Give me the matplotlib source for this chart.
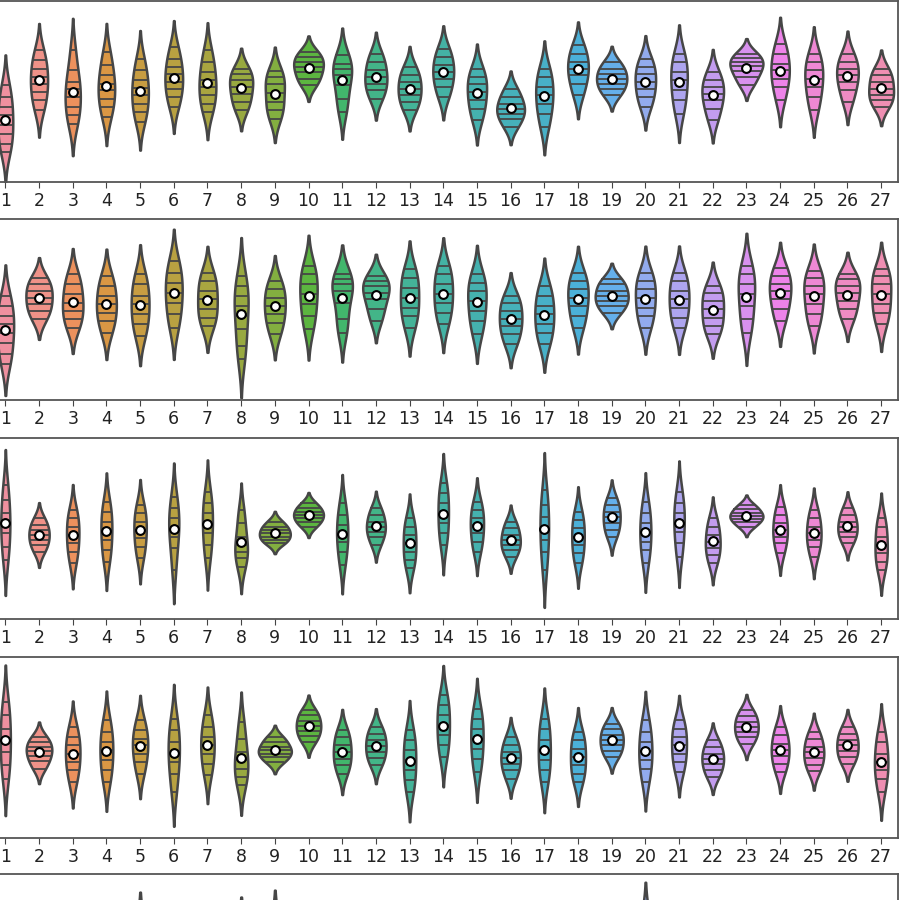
import numpy as np
import pandas as pd
import matplotlib
matplotlib.use("Agg")
import matplotlib.pyplot as plt
import seaborn as sns

cats = [str(i) for i in range(1, 27 + 1)]

# valores (escala 0-543 em cada painel)
panel1 = [
    [290, 255, 225, 200, 170, 145, 115, 90],
    [395, 365, 340, 315, 295, 270, 245, 215],
    [395, 335, 300, 280, 255, 225, 200, 175],
    [390, 350, 320, 295, 275, 250, 225, 195],
    [370, 335, 305, 283, 260, 235, 210, 180],
    [405, 370, 345, 323, 300, 280, 255, 225],
    [395, 360, 330, 305, 285, 260, 235, 210],
    [340, 325, 305, 285, 265, 240, 215],
    [333, 315, 295, 267, 240, 215, 190],
    [390, 375, 360, 345, 330, 310, 290],
    [380, 355, 340, 320, 290, 250, 210],
    [385, 360, 335, 315, 295, 275, 250],
    [345, 320, 300, 280, 260, 240, 215],
    [400, 375, 350, 330, 310, 285, 255],
    [340, 315, 295, 270, 245, 220, 185],
    [280, 255, 235, 220, 205, 190, 165],
    [340, 315, 285, 260, 235, 205, 165],
    [410, 385, 360, 340, 320, 295, 260],
    [360, 340, 325, 310, 295, 280, 260],
    [370, 345, 325, 300, 280, 255, 225],
    [385, 360, 330, 305, 275, 245, 205],
    [330, 305, 285, 265, 245, 220, 185],
    [385, 373, 360, 347, 333, 315, 290],
    [415, 385, 355, 335, 310, 285, 245],
    [385, 360, 335, 310, 285, 255, 215],
    [385, 360, 340, 320, 300, 275, 240],
    [340, 320, 300, 280, 260, 245, 225],
]

panel2 = [
    [312, 282, 252, 227, 202, 172, 137, 107],
    [367, 347, 327, 307, 287, 267, 242],
    [377, 347, 317, 292, 267, 242, 217],
    [372, 342, 312, 287, 262, 237, 202],
    [377, 347, 312, 287, 257, 227, 192],
    [417, 382, 352, 322, 292, 257, 217],
    [382, 357, 327, 302, 272, 247, 222],
    [372, 342, 312, 282, 252, 212, 162, 122],
    [357, 332, 307, 282, 257, 232, 197],
    [402, 377, 347, 317, 287, 252, 212],
    [377, 362, 347, 327, 292, 242, 202],
    [372, 357, 342, 322, 302, 272, 237],
    [392, 367, 337, 307, 277, 252, 217],
    [402, 377, 347, 317, 292, 262, 227],
    [377, 352, 327, 297, 267, 237, 197],
    [312, 292, 267, 242, 222, 197, 167],
    [342, 312, 282, 257, 227, 202, 167],
    [382, 357, 332, 307, 282, 252, 217],
    [362, 347, 327, 312, 297, 282, 262],
    [382, 357, 332, 307, 277, 252, 217],
    [382, 357, 327, 302, 277, 247, 217],
    [342, 322, 297, 272, 247, 222, 197],
    [402, 377, 347, 317, 282, 242, 202],
    [397, 372, 347, 327, 302, 272, 237],
    [387, 367, 342, 317, 287, 257, 222],
    [377, 362, 342, 322, 297, 272, 242],
    [392, 372, 347, 317, 287, 262, 227],
]

panel3 = [
    [402, 357, 317, 287, 257, 217, 177],
    [302, 282, 267, 252, 237, 222, 202],
    [327, 302, 277, 252, 227, 202, 167],
    [352, 322, 292, 267, 237, 207, 172],
    [342, 317, 292, 267, 242, 217, 182],
    [367, 332, 302, 277, 247, 212, 147],
    [382, 347, 317, 287, 257, 222, 182],
    [327, 287, 247, 222, 202, 182, 157],
    [292, 277, 267, 257, 247, 237, 227],
    [347, 332, 322, 312, 302, 292, 277],
    [347, 312, 282, 257, 232, 202, 162],
    [332, 312, 292, 277, 262, 247, 222],
    [302, 277, 252, 227, 202, 177, 152],
    [407, 377, 347, 317, 287, 257, 222],
    [352, 327, 302, 282, 257, 232, 202],
    [292, 272, 252, 237, 222, 207, 187],
    [387, 342, 307, 272, 237, 202, 147],
    [322, 297, 272, 247, 222, 197, 167],
    [362, 342, 322, 305, 287, 267, 247],
    [352, 317, 287, 262, 232, 207, 167],
    [382, 347, 317, 292, 262, 227, 187],
    [302, 277, 252, 232, 212, 192, 167],
    [342, 329, 317, 309, 301, 292, 277],
    [337, 312, 287, 267, 247, 227, 197],
    [327, 302, 277, 257, 237, 217, 187],
    [332, 312, 292, 277, 262, 247, 227],
    [302, 277, 247, 222, 197, 172, 147],
]

panel4 = [
    [408, 368, 328, 293, 258, 218, 178],
    [303, 288, 273, 260, 246, 230, 208],
    [333, 303, 278, 253, 228, 203, 168],
    [353, 318, 288, 263, 233, 203, 168],
    [353, 323, 298, 278, 253, 228, 193],
    [358, 323, 288, 258, 228, 193, 138],
    [368, 333, 303, 278, 253, 223, 188],
    [348, 298, 258, 233, 208, 183, 158],
    [303, 288, 273, 263, 253, 243, 228],
    [383, 368, 350, 336, 322, 306, 288],
    [323, 303, 278, 258, 238, 218, 193],
    [333, 313, 293, 276, 258, 240, 218],
    [323, 293, 263, 233, 203, 173, 138],
    [428, 398, 368, 338, 308, 278, 243],
    [388, 358, 328, 298, 268, 238, 198],
    [303, 278, 258, 240, 223, 203, 178],
    [358, 328, 293, 263, 233, 203, 168],
    [318, 293, 268, 243, 218, 193, 168],
    [343, 326, 308, 293, 278, 260, 243],
    [353, 318, 288, 260, 233, 208, 168],
    [353, 328, 303, 278, 253, 228, 198],
    [293, 273, 253, 238, 223, 203, 183],
    [383, 365, 348, 333, 318, 302, 283],
    [333, 308, 283, 265, 246, 223, 198],
    [318, 296, 273, 258, 240, 220, 200],
    [333, 313, 293, 278, 260, 243, 223],
    [318, 288, 253, 228, 203, 178, 138],
]

# painel de baixo: so as pontas aparecem
panel5 = [
    [330, 300, 275, 250, 225, 200, 170],
    [320, 295, 270, 250, 230, 205, 180],
    [335, 305, 280, 255, 230, 200, 165],
    [340, 310, 280, 255, 225, 195, 160],
    [391, 358, 325, 291, 258, 225, 191],
    [335, 300, 270, 245, 215, 185, 150],
    [340, 310, 285, 260, 230, 200, 170],
    [386, 356, 326, 296, 266, 236, 206],
    [397, 364, 331, 297, 264, 231, 197],
    [325, 300, 280, 260, 240, 220, 195],
    [330, 300, 275, 250, 225, 195, 165],
    [320, 295, 275, 255, 235, 210, 185],
    [335, 300, 270, 240, 210, 180, 150],
    [340, 310, 280, 250, 220, 190, 160],
    [330, 300, 275, 250, 220, 190, 160],
    [310, 290, 270, 250, 230, 210, 185],
    [340, 305, 275, 245, 215, 185, 150],
    [325, 300, 275, 250, 225, 200, 175],
    [320, 300, 280, 262, 245, 225, 205],
    [411, 374, 338, 301, 264, 228, 191],
    [335, 305, 280, 255, 230, 200, 170],
    [315, 290, 270, 250, 230, 210, 185],
    [325, 305, 290, 275, 260, 245, 225],
    [330, 300, 275, 255, 230, 205, 175],
    [325, 300, 280, 260, 240, 215, 190],
    [320, 300, 280, 262, 245, 225, 200],
    [330, 300, 270, 245, 220, 190, 160],
]

panels = [panel1, panel2, panel3, panel4, panel5]
tops_px = [1, 219, 438, 657, 874]  # topo de cada painel em pixels
ax_h = 181

cores = sns.husl_palette(len(cats), l=0.7, s=0.9)

fig = plt.figure(figsize=(9, 9), dpi=100)

for k, (panel, top) in enumerate(zip(panels, tops_px)):
    ax = fig.add_axes([-11.5 / 900, 1 - (top + ax_h) / 900, 909.5 / 900, ax_h / 900])
    rows = [(c, v) for c, vals in zip(cats, panel) for v in vals]
    df = pd.DataFrame(rows, columns=["cat", "val"])
    sns.violinplot(data=df, x="cat", y="val", hue="cat", order=cats, hue_order=cats,
                   palette=cores, saturation=0.85, legend=False, inner="stick",
                   linewidth=1.8, common_norm=True, width=0.98,
                   inner_kws=dict(linewidth=1.3), ax=ax)
    means = [np.mean(v) for v in panel]
    ax.scatter(range(len(cats)), means, s=40, facecolor="white", edgecolor="black",
               linewidth=1.5, zorder=5)
    ax.set_xlim(-0.5, 26.5)
    ax.set_ylim(0, 543)
    ax.set_yticks([])
    ax.set_xlabel("")
    ax.set_ylabel("")
    ax.tick_params(axis="x", labelsize=12.5, length=4, color="#444444", labelcolor="#222222")
    if k == 4:
        ax.tick_params(axis="x", labelbottom=False)
    for s in ax.spines.values():
        s.set_color("#555555")
        s.set_linewidth(1.3)

fig.savefig("out.png", dpi=100)
